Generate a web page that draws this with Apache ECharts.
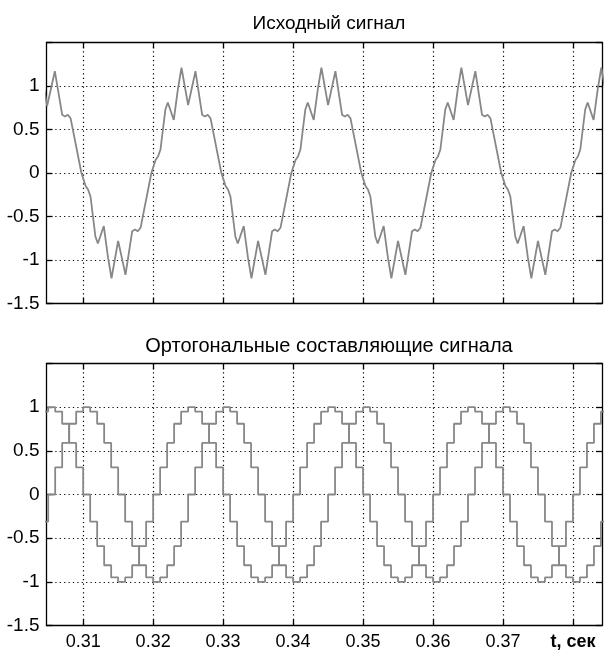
<!DOCTYPE html>
<html>
<head>
<meta charset="utf-8">
<script src="https://cdn.jsdelivr.net/npm/echarts@6/dist/echarts.min.js"></script>
<style>
html,body{margin:0;padding:0;background:#fff;}
#chart{width:605px;height:652px;}
</style>
</head>
<body>
<div id="chart"></div>
<script>
// ---------- data ----------
const titleTop = 'Исходный сигнал';
const titleBottom = 'Ортогональные составляющие сигнала';

// x-axis ticks and their labels (seconds)
const xTickValues = [0.31, 0.32, 0.33, 0.34, 0.35, 0.36, 0.37, 0.38];
const xTickLabels = ['0.31', '0.32', '0.33', '0.34', '0.35', '0.36', '0.37', 't, сек'];
const yTickValues = [-1.5, -1, -0.5, 0, 0.5, 1];
const yTickLabels = ['-1.5', '-1', '-0.5', '0', '0.5', '1'];
const xRange = [0.30476, 0.38415];
const yRange = [-1.5, 1.5];

// original signal: vertices, time in ms
const topT = [
  303.90, 304.85, 305.95, 307.00, 307.40, 307.80, 308.20, 309.75,
  310.35, 310.70, 311.05, 311.75, 312.10, 312.95, 313.55, 314.05, 315.00, 316.05, 317.00, 317.40, 317.80, 318.20, 319.75,
  320.35, 320.70, 321.05, 321.75, 322.10, 322.95, 323.55, 324.05, 325.00, 326.05, 327.00, 327.40, 327.80, 328.20, 329.75,
  330.35, 330.70, 331.05, 331.75, 332.10, 332.95, 333.55, 334.05, 335.00, 336.05, 337.00, 337.40, 337.80, 338.20, 339.75,
  340.35, 340.70, 341.05, 341.75, 342.10, 342.95, 343.55, 344.05, 345.00, 346.05, 347.00, 347.40, 347.80, 348.20, 349.75,
  350.35, 350.70, 351.05, 351.75, 352.10, 352.95, 353.55, 354.05, 355.00, 356.05, 357.00, 357.40, 357.80, 358.20, 359.75,
  360.35, 360.70, 361.05, 361.75, 362.10, 362.95, 363.55, 364.05, 365.00, 366.05, 367.00, 367.40, 367.80, 368.20, 369.75,
  370.35, 370.70, 371.05, 371.75, 372.10, 372.95, 373.55, 374.05, 375.00, 376.05, 377.00, 377.40, 377.80, 378.20, 379.75,
  380.35, 380.70, 381.05, 381.75, 382.10, 382.95, 383.55, 384.05, 385.00
];
const topV = [
  1.21, 0.77, 1.17, 0.67, 0.65, 0.67, 0.63, 0,
  -0.15, -0.19, -0.27, -0.73, -0.81, -0.61, -0.97, -1.21, -0.78, -1.17, -0.67, -0.65, -0.67, -0.63, 0,
  0.15, 0.19, 0.27, 0.73, 0.81, 0.61, 0.97, 1.21, 0.78, 1.17, 0.67, 0.65, 0.67, 0.63, 0,
  -0.15, -0.19, -0.27, -0.73, -0.81, -0.61, -0.97, -1.21, -0.78, -1.17, -0.67, -0.65, -0.67, -0.63, 0,
  0.15, 0.19, 0.27, 0.73, 0.81, 0.61, 0.97, 1.21, 0.78, 1.17, 0.67, 0.65, 0.67, 0.63, 0,
  -0.15, -0.19, -0.27, -0.73, -0.81, -0.61, -0.97, -1.21, -0.78, -1.17, -0.67, -0.65, -0.67, -0.63, 0,
  0.15, 0.19, 0.27, 0.73, 0.81, 0.61, 0.97, 1.21, 0.78, 1.17, 0.67, 0.65, 0.67, 0.63, 0,
  -0.15, -0.19, -0.27, -0.73, -0.81, -0.61, -0.97, -1.21, -0.78, -1.17, -0.67, -0.65, -0.67, -0.63, 0,
  0.15, 0.19, 0.27, 0.73, 0.81, 0.61, 0.97, 1.21, 0.78
];

// orthogonal components: samples every 1 ms (time in ms), held until next sample
const sampleT = [
  304, 305, 306, 307, 308, 309, 310, 311, 312, 313, 314, 315, 316, 317, 318, 319, 320, 321, 322, 323,
  324, 325, 326, 327, 328, 329, 330, 331, 332, 333, 334, 335, 336, 337, 338, 339, 340, 341, 342, 343,
  344, 345, 346, 347, 348, 349, 350, 351, 352, 353, 354, 355, 356, 357, 358, 359, 360, 361, 362, 363,
  364, 365, 366, 367, 368, 369, 370, 371, 372, 373, 374, 375, 376, 377, 378, 379, 380, 381, 382, 383,
  384, 385
];
const compSin = [
  0.95, 1, 0.95, 0.81, 0.59, 0.31, 0, -0.31, -0.59, -0.81, -0.95, -1, -0.95, -0.81, -0.59, -0.31, 0, 0.31, 0.59, 0.81,
  0.95, 1, 0.95, 0.81, 0.59, 0.31, 0, -0.31, -0.59, -0.81, -0.95, -1, -0.95, -0.81, -0.59, -0.31, 0, 0.31, 0.59, 0.81,
  0.95, 1, 0.95, 0.81, 0.59, 0.31, 0, -0.31, -0.59, -0.81, -0.95, -1, -0.95, -0.81, -0.59, -0.31, 0, 0.31, 0.59, 0.81,
  0.95, 1, 0.95, 0.81, 0.59, 0.31, 0, -0.31, -0.59, -0.81, -0.95, -1, -0.95, -0.81, -0.59, -0.31, 0, 0.31, 0.59, 0.81,
  0.95, 1
];
const compCos = [
  -0.31, 0, 0.31, 0.59, 0.81, 0.95, 1, 0.95, 0.81, 0.59, 0.31, 0, -0.31, -0.59, -0.81, -0.95, -1, -0.95, -0.81, -0.59,
  -0.31, 0, 0.31, 0.59, 0.81, 0.95, 1, 0.95, 0.81, 0.59, 0.31, 0, -0.31, -0.59, -0.81, -0.95, -1, -0.95, -0.81, -0.59,
  -0.31, 0, 0.31, 0.59, 0.81, 0.95, 1, 0.95, 0.81, 0.59, 0.31, 0, -0.31, -0.59, -0.81, -0.95, -1, -0.95, -0.81, -0.59,
  -0.31, 0, 0.31, 0.59, 0.81, 0.95, 1, 0.95, 0.81, 0.59, 0.31, 0, -0.31, -0.59, -0.81, -0.95, -1, -0.95, -0.81, -0.59,
  -0.31, 0
];

// ---------- chart ----------
const FONT = '"Liberation Sans", Arial, sans-serif';
const LINE = '#878787';
const grids = [
  { left: 46.5, top: 42.5, width: 555.5, height: 261 },
  { left: 46.5, top: 363.5, width: 555.5, height: 262 }
];

function xLabel(v) {
  let best = 0, bd = 1e9;
  xTickValues.forEach((t, i) => { const d = Math.abs(t - v); if (d < bd) { bd = d; best = i; } });
  const s = xTickLabels[best];
  return s.indexOf('t') === 0 ? '{b|' + s + '}' : s;
}
function yLabel(v) {
  let idx = yTickValues.findIndex(t => Math.abs(t - v) < 1e-9);
  return idx >= 0 ? yTickLabels[idx] : '';
}

const axisLine = { show: true, onZero: false, lineStyle: { color: '#000', width: 1.3 } };
const gridDots = { show: true, lineStyle: { color: '#000', width: 1.2, type: [1.2, 3.2] } };

function makeX(gi, pos, labels, split) {
  return {
    type: 'value', gridIndex: gi, position: pos, min: xRange[0], max: xRange[1],
    axisLine: axisLine,
    axisTick: { show: true, inside: true, length: 6, customValues: xTickValues, lineStyle: { color: '#000', width: 1.3 } },
    axisLabel: labels ? {
      show: true, customValues: xTickValues, formatter: xLabel, color: '#000',
      fontFamily: FONT, fontSize: 18, margin: 8,
      rich: { b: { fontFamily: FONT, fontSize: 18, fontWeight: 'bold', color: '#000' } }
    } : { show: false },
    splitLine: split ? gridDots : { show: false }
  };
}
function makeY(gi, pos, labels, split) {
  return {
    type: 'value', gridIndex: gi, position: pos, min: yRange[0], max: yRange[1], interval: 0.5,
    axisLine: axisLine,
    axisTick: { show: true, inside: true, length: 6, lineStyle: { color: '#000', width: 1.3 } },
    axisLabel: labels ? { show: true, formatter: yLabel, color: '#000', fontFamily: FONT, fontSize: 19, margin: 7 } : { show: false },
    splitLine: split ? gridDots : { show: false }
  };
}

const chart = echarts.init(document.getElementById('chart'), null, { renderer: 'canvas' });
chart.setOption({
  animation: false,
  backgroundColor: '#fff',
  title: [
    { text: titleTop, left: 324, top: 9, textAlign: 'center',
      textStyle: { fontFamily: FONT, fontSize: 19, fontWeight: 'normal', color: '#000' } },
    { text: titleBottom, left: 324, top: 331, textAlign: 'center',
      textStyle: { fontFamily: FONT, fontSize: 20, fontWeight: 'normal', color: '#000' } }
  ],
  grid: grids,
  xAxis: [
    makeX(0, 'bottom', false, true),
    makeX(0, 'top', false, false),
    makeX(1, 'bottom', true, true),
    makeX(1, 'top', false, false)
  ],
  yAxis: [
    makeY(0, 'left', true, true),
    makeY(0, 'right', false, false),
    makeY(1, 'left', true, true),
    makeY(1, 'right', false, false)
  ],
  series: [
    { type: 'line', xAxisIndex: 0, yAxisIndex: 0, showSymbol: false, clip: true,
      lineStyle: { color: LINE, width: 1.8 },
      data: topT.map((t, i) => [t / 1000, topV[i]]) },
    { type: 'line', xAxisIndex: 2, yAxisIndex: 2, showSymbol: false, clip: true, step: 'end',
      lineStyle: { color: LINE, width: 1.8 },
      data: sampleT.map((t, i) => [t / 1000, compSin[i]]) },
    { type: 'line', xAxisIndex: 2, yAxisIndex: 2, showSymbol: false, clip: true, step: 'end',
      lineStyle: { color: LINE, width: 1.8 },
      data: sampleT.map((t, i) => [t / 1000, compCos[i]]) }
  ]
});
</script>
</body>
</html>
